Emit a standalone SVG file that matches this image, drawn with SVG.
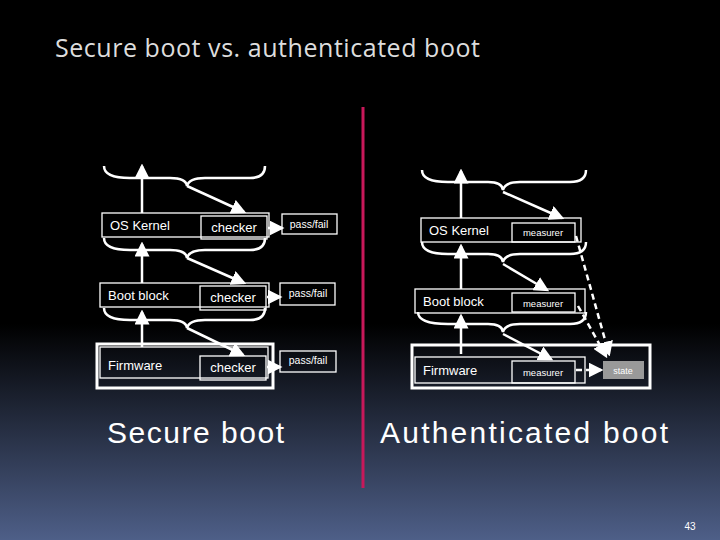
<svg xmlns="http://www.w3.org/2000/svg" width="720" height="540" viewBox="0 0 720 540">
<defs>
<linearGradient id="bg" x1="0" y1="0" x2="0" y2="1">
<stop offset="0" stop-color="#000"/><stop offset="0.6" stop-color="#000"/><stop offset="1" stop-color="#4e5f88"/>
</linearGradient>
<marker id="ah" markerWidth="6" markerHeight="6" refX="5" refY="3" orient="auto" markerUnits="strokeWidth"><path d="M0,0 L6,3 L0,6 z" fill="#fff"/></marker>
<style>
.b{fill:none;stroke:#fff;stroke-width:1.3}
.ob{fill:none;stroke:#fff;stroke-width:3}
.ln{fill:none;stroke:#fff;stroke-width:2.5}
.ar{fill:none;stroke:#fff;stroke-width:2.5;marker-end:url(#ah)}
.da{fill:none;stroke:#fff;stroke-width:2.5;stroke-dasharray:6 4;marker-end:url(#ah)}
text{font-family:"Liberation Sans",Arial,sans-serif;fill:#fff}
.t{font-size:13px}.s{font-size:10.5px}
</style>
</defs>
<rect width="720" height="540" fill="url(#bg)"/>
<text x="55" y="57" textLength="425" style="font-family:'Open Sans','Liberation Sans',sans-serif;font-size:25px;fill:#ddd">Secure boot vs. authenticated boot</text>
<line x1="363" y1="107" x2="363" y2="488" stroke="#c8185a" stroke-width="3"/>
<g id="left-connectors">
<path class="ln" d="M104,166 Q104,178 130,178 L170,178 Q186,178 187,186 Q189,178 205,178 L250,178 Q265,178 265,166"/>
<path class="ln" d="M104,238 Q104,250 130,250 L170,250 Q186,250 187,258 Q189,250 205,250 L250,250 Q265,250 265,238"/>
<path class="ln" d="M104,308 Q104,320 130,320 L170,320 Q186,320 187,328 Q189,320 205,320 L250,320 Q265,320 265,308"/>
<line class="ar" x1="142" y1="213" x2="142" y2="166"/>
<line class="ar" x1="142" y1="283" x2="142" y2="244"/>
<line class="ar" x1="142" y1="347" x2="142" y2="312"/>
<line class="ar" x1="187" y1="186" x2="244" y2="212"/>
<line class="ar" x1="187" y1="258" x2="244" y2="283"/>
<line class="ar" x1="187" y1="328" x2="243" y2="355"/>
<line class="ar" x1="268" y1="228" x2="282" y2="228"/>
<line class="ar" x1="267" y1="297" x2="280" y2="297"/>
<line class="ar" x1="267" y1="367" x2="280" y2="367"/>
</g>
<g id="os-kernel-l"><rect class="b" x="102" y="213" width="167" height="24"/><text class="t" x="110" y="230">OS Kernel</text></g>
<g id="checker1"><rect class="b" x="201" y="216" width="66" height="23" fill="#000"/><text class="t" x="234" y="232" text-anchor="middle">checker</text></g>
<g id="pf1"><rect class="b" x="282" y="214" width="55" height="20"/><text class="s" x="309" y="228" text-anchor="middle">pass/fail</text></g>
<g id="boot-l"><rect class="b" x="100" y="283" width="169" height="24"/><text class="t" x="108" y="300">Boot block</text></g>
<g id="checker2"><rect class="b" x="200" y="286" width="66" height="24" fill="#000"/><text class="t" x="233" y="302" text-anchor="middle">checker</text></g>
<g id="pf2"><rect class="b" x="280" y="283" width="55" height="22"/><text class="s" x="308" y="297" text-anchor="middle">pass/fail</text></g>
<g id="fw-l"><rect class="ob" x="97" y="344" width="176" height="44"/><rect class="b" x="100" y="347" width="168" height="31"/><text class="t" x="108" y="370">Firmware</text></g>
<g id="checker3"><rect class="b" x="200" y="356" width="66" height="24" fill="#000"/><text class="t" x="233" y="372" text-anchor="middle">checker</text></g>
<g id="pf3"><rect class="b" x="280" y="351" width="56" height="21"/><text class="s" x="308" y="364" text-anchor="middle">pass/fail</text></g>
<text x="107" y="443" textLength="177" style="font-size:30px">Secure boot</text>
<g id="right-connectors">
<path class="ln" d="M422,170 Q422,182 448,182 L488,182 Q502,182 503,190 Q505,182 520,182 L570,182 Q586,182 586,170"/>
<path class="ln" d="M422,242 Q422,254 448,254 L488,254 Q502,254 503,262 Q505,254 520,254 L570,254 Q586,254 586,242"/>
<path class="ln" d="M418,312 Q418,324 448,324 L488,324 Q502,324 503,332 Q505,324 520,324 L570,324 Q586,324 586,312"/>
<line class="ar" x1="461" y1="218" x2="461" y2="171"/>
<line class="ar" x1="461" y1="289" x2="461" y2="246"/>
<line class="ar" x1="461" y1="354" x2="461" y2="316"/>
<line class="ar" x1="503" y1="192" x2="562" y2="218"/>
<line class="ar" x1="503" y1="264" x2="547" y2="290"/>
<line class="ar" x1="503" y1="334" x2="551" y2="359"/>
<line class="da" x1="576" y1="236" x2="609" y2="354"/>
<line class="da" x1="578" y1="306" x2="606" y2="356"/>
<line class="da" x1="576" y1="370" x2="601" y2="370"/>
</g>
<g id="os-kernel-r"><rect class="b" x="421" y="218" width="160" height="24"/><text class="t" x="429" y="235">OS Kernel</text></g>
<g id="measurer1"><rect class="b" x="512" y="223" width="63" height="19" fill="#000"/><text class="s" x="543" y="236" text-anchor="middle" style="font-size:9.5px">measurer</text></g>
<g id="boot-r"><rect class="b" x="415" y="289" width="170" height="24"/><text class="t" x="423" y="306">Boot block</text></g>
<g id="measurer2"><rect class="b" x="512" y="293" width="63" height="19" fill="#000"/><text class="s" x="543" y="307" text-anchor="middle" style="font-size:9.5px">measurer</text></g>
<g id="fw-r"><rect class="ob" x="412" y="345" width="238" height="43"/><rect class="b" x="415" y="357" width="170" height="26"/><text class="t" x="423" y="375">Firmware</text></g>
<g id="measurer3"><rect class="b" x="512" y="361" width="63" height="22" fill="#000"/><text class="s" x="543" y="376" text-anchor="middle" style="font-size:9.5px">measurer</text></g>
<g id="state"><rect x="603" y="361" width="41" height="18" fill="#999"/><text x="623" y="374" text-anchor="middle" style="font-size:9px">state</text></g>
<text x="380" y="443" textLength="288" style="font-size:30px">Authenticated boot</text>
<text x="690" y="530" text-anchor="middle" style="font-size:10px">43</text>
</svg>
